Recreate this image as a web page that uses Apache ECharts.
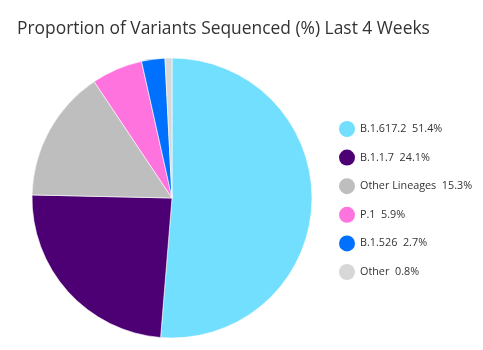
<!DOCTYPE html>
<html><head><meta charset="utf-8">
<script src="https://cdn.jsdelivr.net/npm/echarts@6/dist/echarts.min.js"></script>
<style>html,body{margin:0;padding:0;background:#fff}#c{width:483px;height:350px}</style>
</head><body><div id="c"></div>
<script>
const categories = ["B.1.617.2", "B.1.1.7", "Other Lineages", "P.1", "B.1.526", "Other"];
const values = [51.4, 24.1, 15.3, 5.9, 2.7, 0.8];
const colors = ["#73dfff", "#4c0073", "#bebebe", "#ff73df", "#0070ff", "#d7d7d7"];

const chart = echarts.init(document.getElementById('c'));
chart.setOption({
  animation: false,
  title: {
    text: "Proportion of Variants Sequenced (%) Last 4 Weeks",
    left: 12, top: 16,
    textStyle: { fontFamily: "Open Sans", fontSize: 17.4, fontWeight: "normal", color: "#333" }
  },
  legend: {
    orient: "vertical", left: 334, top: 116,
    icon: "circle", itemWidth: 16, itemHeight: 17, itemGap: 12.6,
    itemStyle: { borderWidth: 0 },
    textStyle: { fontFamily: "Open Sans", fontSize: 10.8, color: "#333", lineHeight: 15 },
    formatter: function (name) {
      const i = categories.indexOf(name);
      return name + "  " + values[i].toFixed(1) + "%";
    },
    data: categories
  },
  series: [{
    type: "pie",
    center: [172, 198], radius: [0, 140],
    startAngle: 90, clockwise: true,
    label: { show: false }, labelLine: { show: false },
    itemStyle: { borderColor: "#fff", borderWidth: 0.6 },
    data: categories.map((c, i) => ({ name: c, value: values[i], itemStyle: { color: colors[i] } }))
  }]
});
</script></body></html>
